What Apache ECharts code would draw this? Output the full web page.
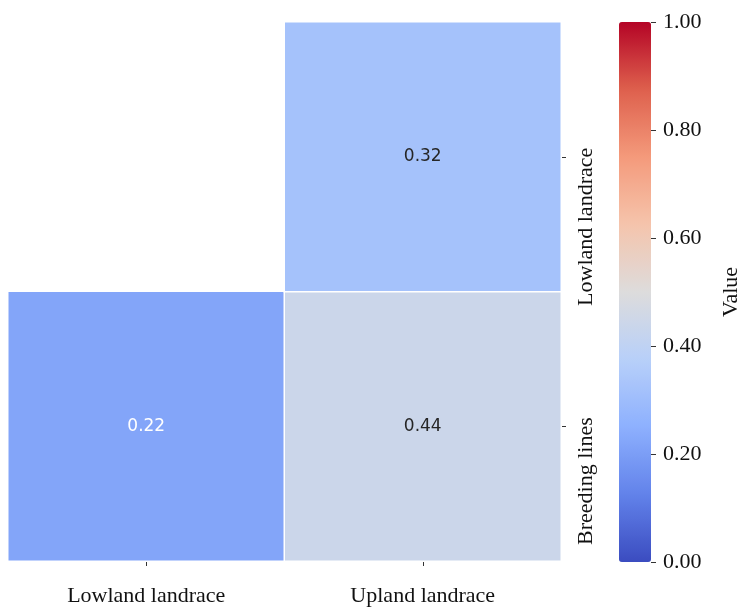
<!DOCTYPE html>
<html><head><meta charset="utf-8">
<script src="https://cdn.jsdelivr.net/npm/echarts@6/dist/echarts.min.js"></script>
<style>html,body{margin:0;padding:0;background:#fff}#c{width:737px;height:608px}</style>
</head><body><div id="c"></div>
<script>
var xCategories = ['Lowland landrace', 'Upland landrace'];
var yCategories = ['Breeding lines', 'Lowland landrace'];
// [xIndex, yIndex, value]
var cellValues = [
  [0, 0, 0.22],
  [1, 0, 0.44],
  [1, 1, 0.32]
];
var colorbarTicks = [0, 0.2, 0.4, 0.6, 0.8, 1.0];
var coolwarm = ['#3b4cc0','#6282ea','#8db0fe','#b8d0f9','#dddcdc','#f5c4ac','#f49a7b','#de604d','#b40426'];

var serif = 'Liberation Serif';
var chart = echarts.init(document.getElementById('c'), null, {renderer: 'canvas'});
var data = cellValues.map(function (d) {
  return {value: d, label: {color: d[2] < 0.3 ? '#ffffff' : '#262626'}};
});
chart.setOption({
  animation: false,
  backgroundColor: '#fff',
  grid: [
    {left: 8, top: 22, width: 553, height: 539, containLabel: false, outerBoundsMode: 'none'},
    {left: 619, top: 22, width: 32, height: 540, containLabel: false, outerBoundsMode: 'none'}
  ],
  xAxis: [
    {type: 'category', gridIndex: 0, data: xCategories, position: 'bottom',
     axisLine: {show: false, onZero: false}, splitLine: {show: false}, splitArea: {show: false},
     axisTick: {show: true, alignWithLabel: true, length: 5, lineStyle: {color: '#333', width: 1}},
     axisLabel: {margin: 24, fontFamily: serif, fontSize: 22, color: '#111'}},
    {type: 'value', gridIndex: 1, show: false, min: 0, max: 1}
  ],
  yAxis: [
    {type: 'category', gridIndex: 0, data: yCategories, position: 'right',
     axisLine: {show: false, onZero: false}, splitLine: {show: false}, splitArea: {show: false},
     axisTick: {show: true, alignWithLabel: true, length: 5, lineStyle: {color: '#333', width: 1}},
     axisLabel: {rotate: 90, margin: 14, align: 'right', padding: [0, -9, 0, 0],
       fontFamily: serif, fontSize: 22, color: '#111'}},
    {type: 'value', gridIndex: 1, position: 'right', min: 0, max: 1, interval: 0.2,
     axisLine: {show: false, onZero: false}, splitLine: {show: false},
     axisTick: {show: true, length: 5, lineStyle: {color: '#333', width: 1}},
     axisLabel: {margin: 12, fontFamily: serif, fontSize: 22, color: '#111',
       formatter: function (v) { return v.toFixed(2); }},
     name: 'Value', nameLocation: 'middle', nameRotate: 90, nameGap: 69,
     nameTextStyle: {fontFamily: serif, fontSize: 22, color: '#111'}}
  ],
  visualMap: {
    type: 'continuous', min: 0, max: 1, seriesIndex: 0,
    calculable: false, orient: 'vertical', left: 619, top: 22, padding: 0,
    itemWidth: 32, itemHeight: 540, text: null, z: 0,
    inRange: {color: coolwarm}
  },
  series: [
    {type: 'heatmap', xAxisIndex: 0, yAxisIndex: 0, data: data,
     itemStyle: {borderColor: '#fff', borderWidth: 1.5},
     label: {show: true, fontFamily: 'DejaVu Sans', fontSize: 17,
       formatter: function (p) { return p.value[2].toFixed(2); },
       color: '#262626'},
     emphasis: {disabled: true}},
    {type: 'scatter', xAxisIndex: 1, yAxisIndex: 1, data: [], silent: true}
  ]
});
</script>
</body></html>
